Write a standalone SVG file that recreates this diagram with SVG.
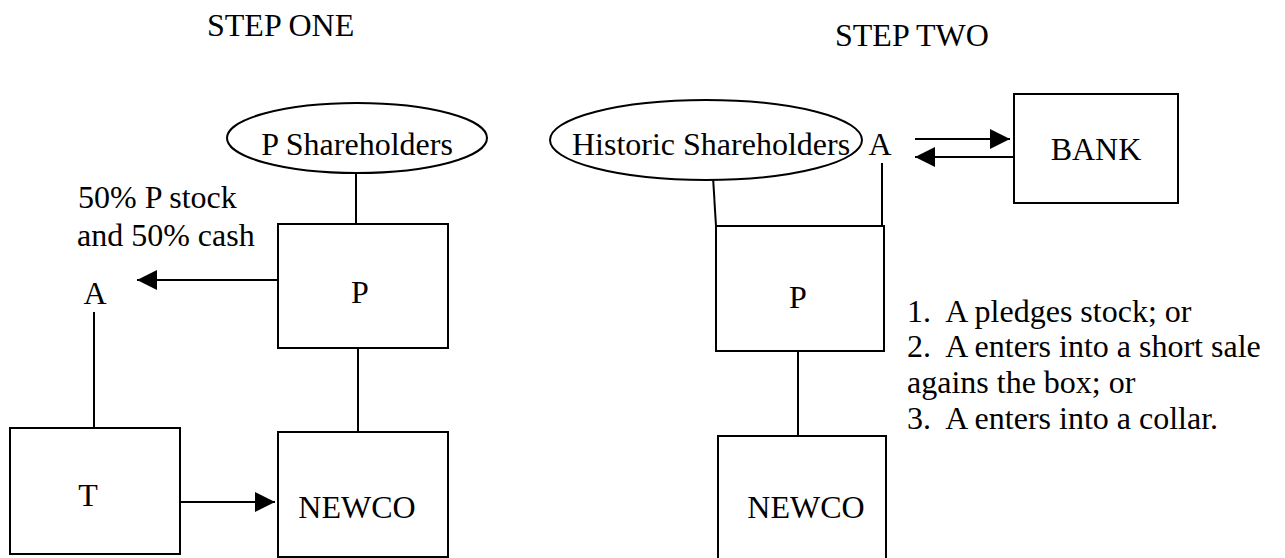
<svg xmlns="http://www.w3.org/2000/svg" width="1285" height="558" viewBox="0 0 1285 558">
<style>
text{font-family:"Liberation Serif","Times New Roman",serif;font-size:32px;fill:#000}
.c{text-anchor:middle}
.pre{white-space:pre}
.box{fill:#fff;stroke:#000;stroke-width:2}
.ell{fill:#fff;stroke:#000;stroke-width:2}
.ln{fill:none;stroke:#000;stroke-width:2}
.arr{fill:none;stroke:#000;stroke-width:2;marker-end:url(#ah)}
</style>
<defs>
<marker id="ah" markerUnits="userSpaceOnUse" markerWidth="20" markerHeight="20" viewBox="0 0 20 20" refX="20" refY="10" orient="auto">
<path d="M0,0 L20,10 L0,20 z" fill="#000"/>
</marker>
</defs>
<rect width="1285" height="558" fill="#fff"/>
<text x="207" y="36">STEP ONE</text>
<text x="835" y="46">STEP TWO</text>
<g id="connectors">
<line class="ln" x1="356" y1="173" x2="356" y2="224"/>
<line class="arr" x1="278" y1="280" x2="137" y2="280"/>
<line class="ln" x1="94" y1="312" x2="94" y2="428"/>
<line class="ln" x1="358" y1="348" x2="358" y2="434"/>
<line class="arr" x1="178" y1="502" x2="275" y2="502"/>
<line class="ln" x1="713" y1="177" x2="716" y2="226"/>
<line class="ln" x1="882" y1="163" x2="882" y2="226"/>
<line class="ln" x1="798" y1="347" x2="798" y2="436"/>
<line class="arr" x1="915" y1="139" x2="1010" y2="139"/>
<line class="arr" x1="1014" y1="157" x2="915" y2="157"/>
</g>
<g id="p-shareholders">
<ellipse class="ell" cx="357" cy="138" rx="130" ry="35"/>
<text class="c" x="357" y="155">P Shareholders</text>
</g>
<g id="a-step1">
<text class="c" x="95" y="304">A</text>
</g>
<g id="label-step1">
<text x="78" y="208">50% P stock</text>
<text x="77" y="246">and 50% cash</text>
</g>
<g id="p-step1">
<rect class="box" x="278" y="224" width="170" height="124"/>
<text class="c" x="360" y="303">P</text>
</g>
<g id="t-step1">
<rect class="box" x="10" y="428" width="170" height="126"/>
<text class="c" x="88" y="506">T</text>
</g>
<g id="newco-step1">
<rect class="box" x="278" y="432" width="170" height="125"/>
<text class="c" x="357" y="518">NEWCO</text>
</g>
<g id="historic-shareholders">
<ellipse class="ell" cx="706" cy="140" rx="156" ry="40"/>
<text class="c" x="711" y="155">Historic Shareholders</text>
</g>
<g id="a-step2">
<text class="c" x="880" y="155">A</text>
</g>
<g id="bank">
<rect class="box" x="1014" y="94" width="164" height="109"/>
<text class="c" x="1096" y="160">BANK</text>
</g>
<g id="p-step2">
<rect class="box" x="716" y="226" width="168" height="125"/>
<text class="c" x="798" y="308">P</text>
</g>
<g id="newco-step2">
<rect class="box" x="718" y="436" width="168" height="130"/>
<text class="c" x="806" y="518">NEWCO</text>
</g>
<g id="notes">
<text class="pre" x="907" y="322" xml:space="preserve">1.  A pledges stock; or</text>
<text class="pre" x="907" y="357" xml:space="preserve">2.  A enters into a short sale</text>
<text x="907" y="393">agains the box; or</text>
<text class="pre" x="907" y="429" xml:space="preserve">3.  A enters into a collar.</text>
</g>
</svg>
